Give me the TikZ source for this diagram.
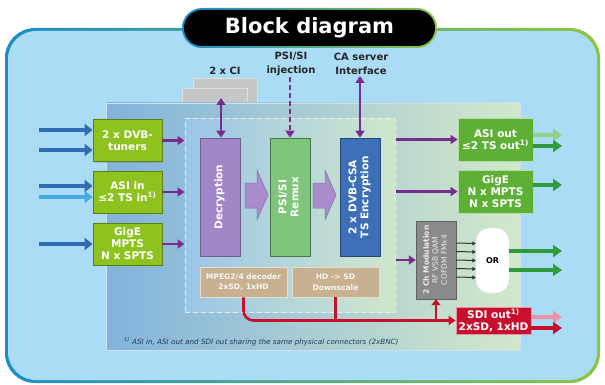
\documentclass[tikz,border=0pt]{standalone}
\usepackage{fontspec}
\setmainfont{DejaVu Sans}
\usepackage{graphicx}
\usetikzlibrary{arrows.meta,calc,shadows}

\definecolor{skyfill}{HTML}{AADCF5}
\definecolor{frameblue}{HTML}{1A8CCB}
\definecolor{framegreen}{HTML}{8CC63F}
\definecolor{panelblue}{HTML}{82B3DC}
\definecolor{panelgreen}{HTML}{D2E8CA}
\definecolor{coreblue}{HTML}{9BC5E7}
\definecolor{coregreen}{HTML}{CFE7CC}
\definecolor{limegreen}{HTML}{8DC21F}
\definecolor{outgreen}{HTML}{5DAF35}
\definecolor{decrpurple}{HTML}{A087C7}
\definecolor{remuxgreen}{HTML}{7FC67C}
\definecolor{csablue}{HTML}{3C6FB6}
\definecolor{tanbrown}{HTML}{C8B190}
\definecolor{modgray}{HTML}{8A8A8A}
\definecolor{sdired}{HTML}{C8102E}
\definecolor{arrowpurple}{HTML}{7A2B8E}
\definecolor{inblue}{HTML}{2F6CB3}
\definecolor{inlight}{HTML}{47AAE2}
\definecolor{darkgreen}{HTML}{2E9B3C}
\definecolor{lightgreen}{HTML}{8FD18B}
\definecolor{sdipink}{HTML}{EE93A8}
\definecolor{lavender}{HTML}{A98CCB}
\definecolor{notetext}{HTML}{233B5C}

\newcommand{\vtext}[1]{\rotatebox{90}{\begin{tabular}{@{}c@{}}#1\end{tabular}}}

\begin{document}
\begin{tikzpicture}[x=1pt, y=-1pt,
  shadowed/.style={drop shadow={opacity=0.3, shadow xshift=1.2pt, shadow yshift=-1.2pt}},
  boxtext/.style={text=white, align=center, inner sep=0pt, font=\bfseries\fontsize{10.5}{12}\selectfont},
  inbox/.style={boxtext, shadowed, draw=limegreen!65!black, fill=limegreen, line width=0.8pt, minimum width=69pt, minimum height=42pt},
  outbox/.style={boxtext, shadowed, draw=white!55!outgreen, fill=outgreen, line width=0.8pt, minimum width=75pt, minimum height=43pt},
  corebox/.style={boxtext, shadowed, line width=0.8pt, minimum width=40pt, minimum height=118pt},
  tanbox/.style={shadowed, draw=white!55!tanbrown, fill=tanbrown, text=white!90!tanbrown, align=center, inner sep=0pt, line width=0.8pt, minimum width=87pt, minimum height=30pt, font=\bfseries\fontsize{7.6}{10.5}\selectfont},
  cicard/.style={draw=white!75!gray, fill=lightgray!90!white, line width=1pt},
  toplabel/.style={align=center, inner sep=1pt, text=black!85, font=\bfseries\fontsize{10}{14}\selectfont},
  purplearrow/.style={draw=arrowpurple, line width=2.6pt, -{Triangle[length=7pt,width=9pt]}},
  twoway/.style={purplearrow, {Triangle[length=7pt,width=9pt]}-{Triangle[length=7pt,width=9pt]}},
  inarrow/.style={line width=4.5pt, -{Triangle[length=8pt,width=12pt]}},
  outarrow/.style={line width=4.5pt, -{Triangle[length=9pt,width=12pt]}},
  thinarrow/.style={draw=black!80, line width=1pt, -{Triangle[length=3.5pt,width=4pt]}},
  redline/.style={draw=sdired, line width=2.6pt}
]
\useasboundingbox (0,0) rectangle (605,385);

\shade[left color=frameblue, right color=framegreen, rounded corners=30pt] (5,28) rectangle (600,383);
\fill[skyfill, rounded corners=28pt] (8,31) rectangle (597,380);

\shade[left color=frameblue, right color=framegreen, rounded corners=20pt] (182,8) rectangle (437,48);
\node[fill=black, rounded corners=18pt, minimum width=251pt, minimum height=36pt, text=white,
  font=\bfseries\fontsize{21}{24}\selectfont] (title) at (309.5,28) {Block diagram};

\node[toplabel] (cilabel) at (225,71) {2 x CI};
\node[toplabel] (psilabel) at (291,64) {PSI/SI\\injection};
\node[toplabel] (calabel) at (361,64) {CA server\\Interface};

\node[cicard, minimum width=64pt, minimum height=31pt] (ci1) at (225,94.5) {};
\node[cicard, minimum width=65pt, minimum height=21pt] (ci2) at (214.5,99.5) {};

\shadedraw[left color=panelblue, right color=panelgreen, draw=white!60!panelblue, line width=0.8pt]
    (106,103) rectangle (520,350);

\node[left color=coreblue, right color=coregreen, draw=white!85!gray, line width=1pt,
  dash pattern=on 5pt off 3pt, minimum width=210pt, minimum height=193pt] (core) at (290,215.5) {};

\node[inbox] (tuners) at (127.5,140.5) {2 x DVB-\\tuners};
\node[inbox] (asiin) at (127.5,192) {ASI in\\≤2 TS in\textsuperscript{1)}};
\node[inbox] (gigein) at (127.5,244) {GigE\\MPTS\\N x SPTS};

\node[corebox, draw=decrpurple!70!black, fill=decrpurple] (decr) at (220,197) {\vtext{Decryption}};
\node[corebox, draw=remuxgreen!60!black, fill=remuxgreen] (remux) at (290,197) {\vtext{PSI/SI\\Remux}};
\node[corebox, draw=csablue!65!black, fill=csablue] (csa) at (360,197) {\vtext{2 x DVB-CSA\\TS Encryption}};

\foreach \x in {245,313}
  \filldraw[fill=lavender, draw=lavender!80!black, line width=0.5pt]
    (\x,183) -- (\x+12,183) -- (\x+12,170) -- (\x+23,195) -- (\x+12,220) -- (\x+12,208) -- (\x,208) -- cycle;

\node[tanbox] (mpeg) at (243.5,282) {MPEG2/4 decoder\\2xSD, 1xHD};
\node[tanbox] (hdsd) at (335.5,282) {HD -> SD\\Downscale};

\node[outbox] (asiout) at (495.5,139.5) {ASI out\\≤2 TS out\textsuperscript{1)}};
\node[outbox] (gigeout) at (495.5,191.5) {GigE\\N x MPTS\\N x SPTS};

\node[shadowed, draw=modgray!70!black, fill=modgray, text=white!85!gray, inner sep=0pt,
  minimum width=40pt, minimum height=78pt, font=\fontsize{7.5}{9}\selectfont] (modul) at (436,260)
  {\vtext{\textbf{2 Ch Modulation}\\RF VSB QAM\\COFDM FMx4}};
\node[draw=white!80!gray, fill=white, rounded corners=13pt, minimum width=33pt, minimum height=65pt,
  font=\bfseries\fontsize{8}{9}\selectfont] (orbox) at (492.5,260.5) {OR};

\node[boxtext, shadowed, draw=white!55!sdired, fill=sdired, line width=0.8pt, minimum width=75pt,
  minimum height=27pt] (sdiout) at (493.5,320.5) {SDI out\textsuperscript{1)}\\2xSD, 1xHD};

\node[anchor=west, inner sep=0pt, text=notetext, font=\itshape\fontsize{7.2}{8}\selectfont] (note) at (124,342)
  {\textsuperscript{1)} ASI in, ASI out and SDI out sharing the same physical connectors (2xBNC)};

\coordinate (tun1) at (39,130);
\coordinate (tun2) at (39,150);
\coordinate (asi1) at (39,186);
\coordinate (asi2) at (39,197);
\coordinate (gig1) at (39,244);
\draw[inarrow, inblue] (tun1) -- (tun1 -| tuners.west);
\draw[inarrow, inblue] (tun2) -- (tun2 -| tuners.west);
\draw[inarrow, inblue] (asi1) -- (asi1 -| asiin.west);
\draw[inarrow, inlight] (asi2) -- (asi2 -| asiin.west);
\draw[inarrow, inblue] (gig1) -- (gig1 -| gigein.west);

\draw[purplearrow] (tuners.east) -- (tuners.east -| core.west);
\draw[purplearrow] (asiin.east) -- (asiin.east -| core.west);
\draw[purplearrow] (gigein.east) -- (gigein.east -| core.west);
\draw[purplearrow] (core.east |- asiout.west) -- (asiout.west);
\draw[purplearrow] (core.east |- gigeout.west) -- (gigeout.west);
\draw[purplearrow] (core.east |- modul.west) -- (modul.west);

\coordinate (citip) at (221,98);
\draw[twoway] (decr.north -| citip) -- (citip);
\draw[purplearrow, dash pattern=on 5pt off 3pt] (psilabel.south -| remux.north) -- (remux.north);
\draw[twoway] (csa.north) -- (calabel.south -| csa.north);

\foreach \d in {-17,-8.5,0,8.5,17}
  \draw[thinarrow] ($(modul.east)+(0,\d)$) -- ($(orbox.west)+(0,\d)$);

\draw[redline, rounded corners=10pt, -{Triangle[length=7pt,width=9pt]}] (mpeg.south) |- (sdiout.west);
\draw[redline] (hdsd.south) -- (hdsd.south |- sdiout.west);
\draw[redline, -{Triangle[length=6pt,width=9pt]}] (modul.south |- sdiout.west) -- (modul.south);

\coordinate (ao1) at (562,135);
\coordinate (ao2) at (562,146);
\coordinate (go1) at (562,185);
\coordinate (or1) at (562,251);
\coordinate (or2) at (562,270);
\coordinate (so1) at (562,317);
\coordinate (so2) at (562,328);
\draw[outarrow, lightgreen] (ao1 -| asiout.east) -- (ao1);
\draw[outarrow, darkgreen] (ao2 -| asiout.east) -- (ao2);
\draw[outarrow, darkgreen] (go1 -| gigeout.east) -- (go1);
\draw[outarrow, darkgreen] (or1 -| orbox.east) -- (or1);
\draw[outarrow, darkgreen] (or2 -| orbox.east) -- (or2);
\draw[outarrow, sdipink] (so1 -| sdiout.east) -- (so1);
\draw[outarrow, sdired] (so2 -| sdiout.east) -- (so2);

\end{tikzpicture}
\end{document}
